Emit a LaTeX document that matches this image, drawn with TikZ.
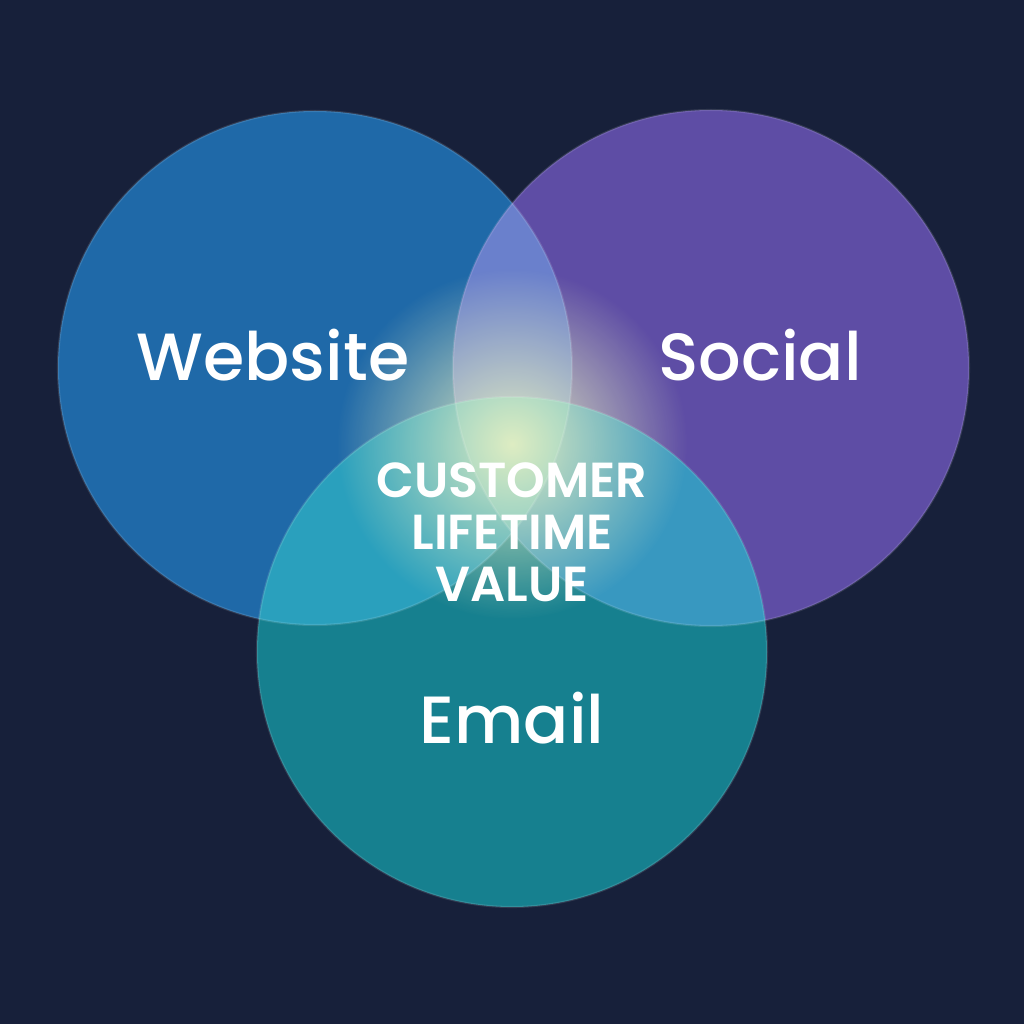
\documentclass[tikz,border=0pt]{standalone}
\usepackage{fontspec}
\setmainfont{Poppins}
\newfontfamily\setfont{Poppins}[UprightFont=* Medium, BoldFont=* SemiBold]
\usetikzlibrary{fadings}

\definecolor{bgnavy}{HTML}{17203A}
\definecolor{webblue}{HTML}{1F69A8}
\definecolor{socpurple}{HTML}{5E4DA5}
\definecolor{mailteal}{HTML}{16808F}
\definecolor{webmix}{HTML}{6A80CC}
\definecolor{webmail}{HTML}{2AA0BD}
\definecolor{socmail}{HTML}{3898C0}
\definecolor{allmix}{HTML}{4FB4C6}
\definecolor{glowcol}{HTML}{E6F0C2}

\tikzfading[name=glowfade, inner color=transparent!0, outer color=transparent!100]

\begin{document}
\begin{tikzpicture}[
    setlabel/.style={
        text=white, font=\setfont\fontsize{19}{24}\selectfont, inner sep=0pt},
    corelabel/.style={
        text=white, align=center, inner sep=0pt,
        font=\setfont\bfseries\fontsize{14}{14.8}\selectfont},
    rim/.style={draw=white, draw opacity=0.12, line width=0.6pt}
]

%% ── Background ──────────────────────────────────────────────────
\fill[bgnavy] (0,0) rectangle (10.24,10.24);

%% ── Circle centres ──────────────────────────────────────────────
\coordinate (web)  at (3.15, 6.56);
\coordinate (soc)  at (7.11, 6.56);
\coordinate (mail) at (5.12, 3.72);
\coordinate (core) at (5.12, 5.80);

%% ── Single sets ─────────────────────────────────────────────────
\fill[webblue]   (web)  circle (2.57);
\fill[socpurple] (soc)  circle (2.58);
\fill[mailteal]  (mail) circle (2.55);

%% ── Pairwise overlaps ───────────────────────────────────────────
\begin{scope}
    \clip (web) circle (2.57);
    \fill[webmix]  (soc)  circle (2.58);
    \fill[webmail] (mail) circle (2.55);
\end{scope}
\begin{scope}
    \clip (soc) circle (2.58);
    \fill[socmail] (mail) circle (2.55);
\end{scope}

%% ── Triple overlap ──────────────────────────────────────────────
\begin{scope}
    \clip (web) circle (2.57);
    \clip (soc) circle (2.58);
    \fill[allmix] (mail) circle (2.55);
\end{scope}

%% ── Central glow ────────────────────────────────────────────────
\fill[glowcol, path fading=glowfade, fill opacity=0.95]
    (core) circle (1.75);

%% ── Rims ────────────────────────────────────────────────────────
\draw[rim] (web)  circle (2.57);
\draw[rim] (soc)  circle (2.58);
\draw[rim] (mail) circle (2.55);

%% ── Labels ──────────────────────────────────────────────────────
\node[setlabel] (weblbl)  at (2.73, 6.69) {Website};
\node[setlabel] (soclbl)  at (7.60, 6.69) {Social};
\node[setlabel] (maillbl) at (5.12, 3.06) {Email};
\node[corelabel] (clv) at (5.12, 4.92)
    {CUSTOMER\\LIFETIME\\VALUE};

\end{tikzpicture}
\end{document}
